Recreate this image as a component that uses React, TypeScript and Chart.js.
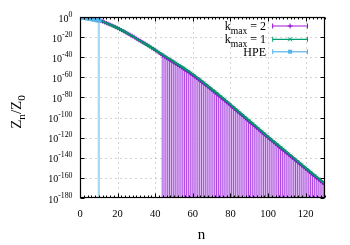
import { useEffect, useRef } from 'react';
import { Chart, registerables } from 'chart.js';

Chart.register(...registerables);

// ---- data (log10 of Z_n/Z_0) ----
const kmax1Start = 0;
const kmax1Exp = [
  0, -0.1, -0.3, -0.55, -0.85, -1.15, -1.5, -1.85, -2.2, -2.6, -3.0,
  -3.75, -4.5, -5.25, -6.0, -6.8, -7.6, -8.4, -9.2, -10.1, -11.0,
  -12.0, -13.0, -14.0, -15.0, -16.05, -17.1, -18.15, -19.2, -20.3, -21.5,
  -22.6, -23.7, -24.8, -25.9, -27.0, -28.15, -29.3, -30.5, -31.7, -33.0,
  -34.1, -35.2, -36.35, -37.5, -38.65, -39.8, -41.0, -42.2, -43.35, -44.5,
  -45.7, -46.9, -48.1, -49.3, -50.5, -51.7, -53.0, -54.3, -55.6, -57.0,
  -58.4, -59.8, -61.2, -62.6, -64.05, -65.5, -66.95, -68.4, -69.9, -71.5,
  -73.0, -74.5, -76.0, -77.55, -79.1, -80.65, -82.2, -83.8, -85.4, -87.0,
  -88.6, -90.2, -91.8, -93.4, -95.0, -96.6, -98.2, -99.8, -101.4, -103.0,
  -104.6, -106.2, -107.8, -109.4, -111.0, -112.6, -114.2, -115.8, -117.4, -119.0,
  -120.55, -122.1, -123.65, -125.2, -126.75, -128.3, -129.85, -131.4, -132.95, -134.5,
  -136.05, -137.6, -139.15, -140.7, -142.25, -143.8, -145.35, -146.9, -148.45, -150.0,
  -151.55, -153.1, -154.65, -156.2, -157.75, -159.3, -160.85, -162.4, -163.95, -165.5,
];

const kmax2Start = 10;
const kmax2Exp = [
  -3.0, -3.75, -4.5, -5.25, -6.0, -6.8, -7.6, -8.4, -9.2, -10.1, -11.0,
  -12.0, -13.0, -14.0, -15.0, -16.05, -17.1, -18.15, -19.2, -20.3, -21.5,
  -22.6, -23.7, -24.8, -25.9, -27.0, -28.15, -29.3, -30.5, -31.7, -33.0,
  -34.3, -35.5, -36.9,
  -38.3, -39.45, -40.6, -41.8, -43.0, -44.15, -45.3,
  -46.5, -47.7, -48.9, -50.1, -51.3, -52.5, -53.8, -55.1, -56.4, -57.8,
  -59.2, -60.6, -62.0, -63.4, -64.85, -66.3, -67.75, -69.2, -70.7, -72.3,
  -73.8, -75.3, -76.8, -78.35, -79.9, -81.45, -83.0, -84.6, -86.2, -87.8,
  -89.4, -91.0, -92.6, -94.2, -95.8, -97.4, -99.0, -100.6, -102.2, -103.8,
  -105.4, -107.0, -108.6, -110.2, -111.8, -113.4, -115.0, -116.6, -118.2, -119.8,
  -121.35, -122.9, -124.45, -126.0, -127.55, -129.1, -130.65, -132.2, -133.75, -135.3,
  -136.85, -138.4, -139.95, -141.5, -143.05, -144.6, -146.15, -147.7, -149.25, -150.8,
  -152.35, -153.9, -155.45, -157.0, -158.55, -160.1, -161.65, -163.2, -164.75, -166.3,
];
// k_max = 2 points from this n on have error bars reaching below the axis floor
const kmax2ErrFrom = 44;

const hpeStart = 0;
const hpeExp = [0, -0.1, -0.3, -0.55, -0.85, -1.15, -1.5, -1.85, -2.2, -2.6, -3.0];
// HPE point whose error bar reaches below the axis floor
const hpeErrN = [10];

const xMin = 0;
const xMax = 130;
const yMinExp = -180;
const yMaxExp = 0;
const xTicks = [0, 20, 40, 60, 80, 100, 120];
const xMinorStep = 2;
const yTickExps = [0, -20, -40, -60, -80, -100, -120, -140, -160, -180];
const yTickLabels = yTickExps.map((e) => `10^{${e}}`);
const legendLabels = ['k_{max} = 2', 'k_{max} = 1', 'HPE'];
const xTitle = 'n';
const yTitle = 'Z_{n}/Z_{0}';

const PURPLE = '#9400d3';
const GREEN = '#009e73';
const CYAN = '#56b4e9';
const FONT = '"Liberation Serif", "Times New Roman", serif';

type Seg = { t: string; m: number; w?: number };
function parseRich(s: string): Seg[] {
  const segs: Seg[] = [];
  let buf = '';
  let i = 0;
  while (i < s.length) {
    const c = s[i];
    if ((c === '_' || c === '^') && s[i + 1] === '{') {
      if (buf) { segs.push({ t: buf, m: 0 }); buf = ''; }
      const end = s.indexOf('}', i);
      segs.push({ t: s.slice(i + 2, end), m: c === '_' ? 1 : 2 });
      i = end + 1;
    } else { buf += c; i++; }
  }
  if (buf) segs.push({ t: buf, m: 0 });
  return segs;
}

function drawRich(ctx: CanvasRenderingContext2D, s: string, x: number, y: number, size: number, align: string, rot = 0, ratio = 0.75) {
  const segs = parseRich(s);
  const small = size * ratio;
  let w = 0;
  for (const g of segs) {
    ctx.font = `${g.m ? small : size}px ${FONT}`;
    g.w = ctx.measureText(g.t).width;
    w += g.w;
  }
  ctx.save();
  ctx.translate(x, y);
  if (rot) ctx.rotate(rot);
  ctx.textAlign = 'left';
  ctx.textBaseline = 'alphabetic';
  ctx.fillStyle = '#000';
  let cx = align === 'right' ? -w : align === 'center' ? -w / 2 : 0;
  for (const g of segs) {
    ctx.font = `${g.m ? small : size}px ${FONT}`;
    const dy = g.m === 1 ? size * 0.3 : g.m === 2 ? -size * 0.48 : 0;
    ctx.fillText(g.t, cx, dy);
    cx += g.w || 0;
  }
  ctx.restore();
}

const decor = {
  id: 'decor',
  beforeDatasetsDraw(chart: any) {
    const { ctx, chartArea: a, scales } = chart;
    const xs = scales.x, ys = scales.y;
    ctx.save();
    ctx.strokeStyle = 'rgba(170,170,170,0.5)';
    ctx.lineWidth = 1;
    ctx.setLineDash([2, 3]);
    ctx.beginPath();
    for (const t of xTicks) {
      if (t === xMin || t === xMax) continue;
      const px = Math.round(xs.getPixelForValue(t)) + 0.5;
      ctx.moveTo(px, a.top); ctx.lineTo(px, a.bottom);
    }
    for (const e of yTickExps) {
      if (e === yMinExp || e === yMaxExp) continue;
      const py = Math.round(ys.getPixelForValue(Math.pow(10, e))) + 0.5;
      ctx.moveTo(a.left, py); ctx.lineTo(a.right, py);
    }
    ctx.stroke();
    ctx.restore();
  },
  afterDatasetsDraw(chart: any) {
    const { ctx, chartArea: a, scales } = chart;
    const xs = scales.x, ys = scales.y;
    const L = Math.round(a.left) + 0.5, R = Math.round(a.right) - 0.5;
    const T = Math.round(a.top) + 0.5, B = Math.round(a.bottom) - 0.5;
    ctx.save();
    ctx.strokeStyle = '#000';
    ctx.lineWidth = 1;
    ctx.setLineDash([]);
    ctx.beginPath();
    for (let v = xMin; v <= xMax; v += xMinorStep) {
      const px = Math.round(xs.getPixelForValue(v)) + 0.5;
      const len = xTicks.includes(v) ? 4 : 2;
      ctx.moveTo(px, B); ctx.lineTo(px, B - len);
      ctx.moveTo(px, T); ctx.lineTo(px, T + len);
    }
    for (const e of yTickExps) {
      const py = Math.round(ys.getPixelForValue(Math.pow(10, e))) + 0.5;
      ctx.moveTo(L, py); ctx.lineTo(L + 4, py);
      ctx.moveTo(R, py); ctx.lineTo(R - 4, py);
    }
    ctx.stroke();
    ctx.lineWidth = 1.2;
    ctx.strokeRect(L, T, R - L, B - T);
    ctx.restore();
  },
  afterDraw(chart: any) {
    const { ctx, scales } = chart;
    const xs = scales.x, ys = scales.y;
    ctx.save();
    xTicks.forEach((t) => {
      drawRich(ctx, String(t), xs.getPixelForValue(t), 216.5, 10.5, 'center');
    });
    yTickExps.forEach((e, i) => {
      const py = ys.getPixelForValue(Math.pow(10, e));
      drawRich(ctx, yTickLabels[i], 72.5, py + 4.5, 10, 'right', 0, 0.78);
    });
    drawRich(ctx, xTitle, 201.5, 238.5, 15, 'center');
    drawRich(ctx, yTitle, 20.5, 112, 15, 'center', -Math.PI / 2);

    // legend
    const rows = [26, 39.3, 51.7];
    const x0 = 272.7, x1 = 307.5, xm = (x0 + x1) / 2;
    legendLabels.forEach((lab, i) => {
      drawRich(ctx, lab, 266, rows[i] + 4, 12, 'right', 0, 0.8);
    });
    const styles = [
      { line: 'rgba(148,0,211,0.45)', lw: 2.2, cap: PURPLE },
      { line: GREEN, lw: 1.2, cap: GREEN },
      { line: 'rgba(86,180,233,0.8)', lw: 1.6, cap: CYAN },
    ];
    styles.forEach((s, i) => {
      const y = rows[i];
      ctx.strokeStyle = s.line;
      ctx.lineWidth = s.lw;
      ctx.beginPath(); ctx.moveTo(x0, y); ctx.lineTo(x1, y); ctx.stroke();
      ctx.strokeStyle = s.cap;
      ctx.lineWidth = 1;
      ctx.beginPath();
      ctx.moveTo(x0, y - 2.5); ctx.lineTo(x0, y + 2.5);
      ctx.moveTo(x1, y - 2.5); ctx.lineTo(x1, y + 2.5);
      if (i === 0) { ctx.moveTo(xm, y - 2.5); ctx.lineTo(xm, y + 2.5); ctx.moveTo(xm - 2.5, y); ctx.lineTo(xm + 2.5, y); }
      if (i === 1) { ctx.moveTo(xm - 2, y - 2); ctx.lineTo(xm + 2, y + 2); ctx.moveTo(xm - 2, y + 2); ctx.lineTo(xm + 2, y - 2); }
      ctx.stroke();
      if (i === 2) { ctx.fillStyle = CYAN; ctx.fillRect(xm - 2, y - 2, 4, 4); }
    });
    ctx.restore();
  },
};

export default function App() {
  const ref = useRef<HTMLCanvasElement | null>(null);
  useEffect(() => {
    if (!ref.current) return;
    const floor = Math.pow(10, yMinExp);
    const k1 = kmax1Exp.map((e, i) => ({ x: kmax1Start + i, y: Math.pow(10, e) }));
    const k2 = kmax2Exp.map((e, i) => ({ x: kmax2Start + i, y: Math.pow(10, e) }));
    const k2Err = k2.filter((p) => p.x >= kmax2ErrFrom).map((p) => ({ x: p.x, y: [floor, p.y] }));
    const hpe = hpeExp.map((e, i) => ({ x: hpeStart + i, y: Math.pow(10, e) }));
    const hpeErr = hpe.filter((p) => hpeErrN.includes(p.x)).map((p) => ({ x: p.x, y: [floor, p.y] }));

    const chart = new Chart(ref.current, {
      type: 'line',
      data: {
        datasets: [
          {
            type: 'bar', label: 'k2err', data: k2Err as any, order: 5,
            backgroundColor: '#dfbcf3', borderColor: '#a83ee0',
            borderWidth: { left: 1, right: 0, top: 0, bottom: 0 } as any,
            borderSkipped: false, barThickness: 1.9, grouped: false,
          } as any,
          {
            type: 'bar', label: 'hpeerr', data: hpeErr as any, order: 4,
            backgroundColor: '#a6d9f5', borderWidth: 0, barThickness: 1.6, grouped: false,
          } as any,
          {
            type: 'line', label: 'k_max = 2', data: k2 as any, order: 3,
            borderColor: PURPLE, borderWidth: 2, pointStyle: 'cross', pointRadius: 2,
            pointBorderColor: PURPLE, pointBorderWidth: 1, fill: false, tension: 0,
          },
          {
            type: 'line', label: 'k_max = 1', data: k1 as any, order: 2,
            borderColor: '#0b8a6a', borderWidth: 2.2, pointStyle: 'crossRot', pointRadius: 2.2,
            pointBorderColor: 'rgba(0,158,115,0.5)', pointBorderWidth: 1, fill: false, tension: 0,
          },
          {
            type: 'line', label: 'HPE', data: hpe as any, order: 1,
            borderColor: 'rgba(86,180,233,0.85)', borderWidth: 2.5, pointStyle: 'rect', pointRadius: 1.8,
            pointBackgroundColor: CYAN, pointBorderColor: CYAN, fill: false, tension: 0,
          },
        ],
      },
      options: {
        animation: false,
        responsive: false,
        devicePixelRatio: 1,
        events: [],
        layout: { padding: { left: 80, right: 25.5, top: 17, bottom: 47 } },
        plugins: { legend: { display: false }, tooltip: { enabled: false } },
        scales: {
          x: { type: 'linear', min: xMin, max: xMax, display: false, offset: false },
          y: { type: 'logarithmic', min: Math.pow(10, yMinExp), max: Math.pow(10, yMaxExp), display: false },
        },
      } as any,
      plugins: [decor],
    });
    return () => chart.destroy();
  }, []);
  return (
    <div style={{ position: 'absolute', left: 0, top: 0, width: 350, height: 245, background: '#fff' }}>
      <canvas ref={ref} width={350} height={245} style={{ display: 'block', width: 350, height: 245 }} />
    </div>
  );
}
